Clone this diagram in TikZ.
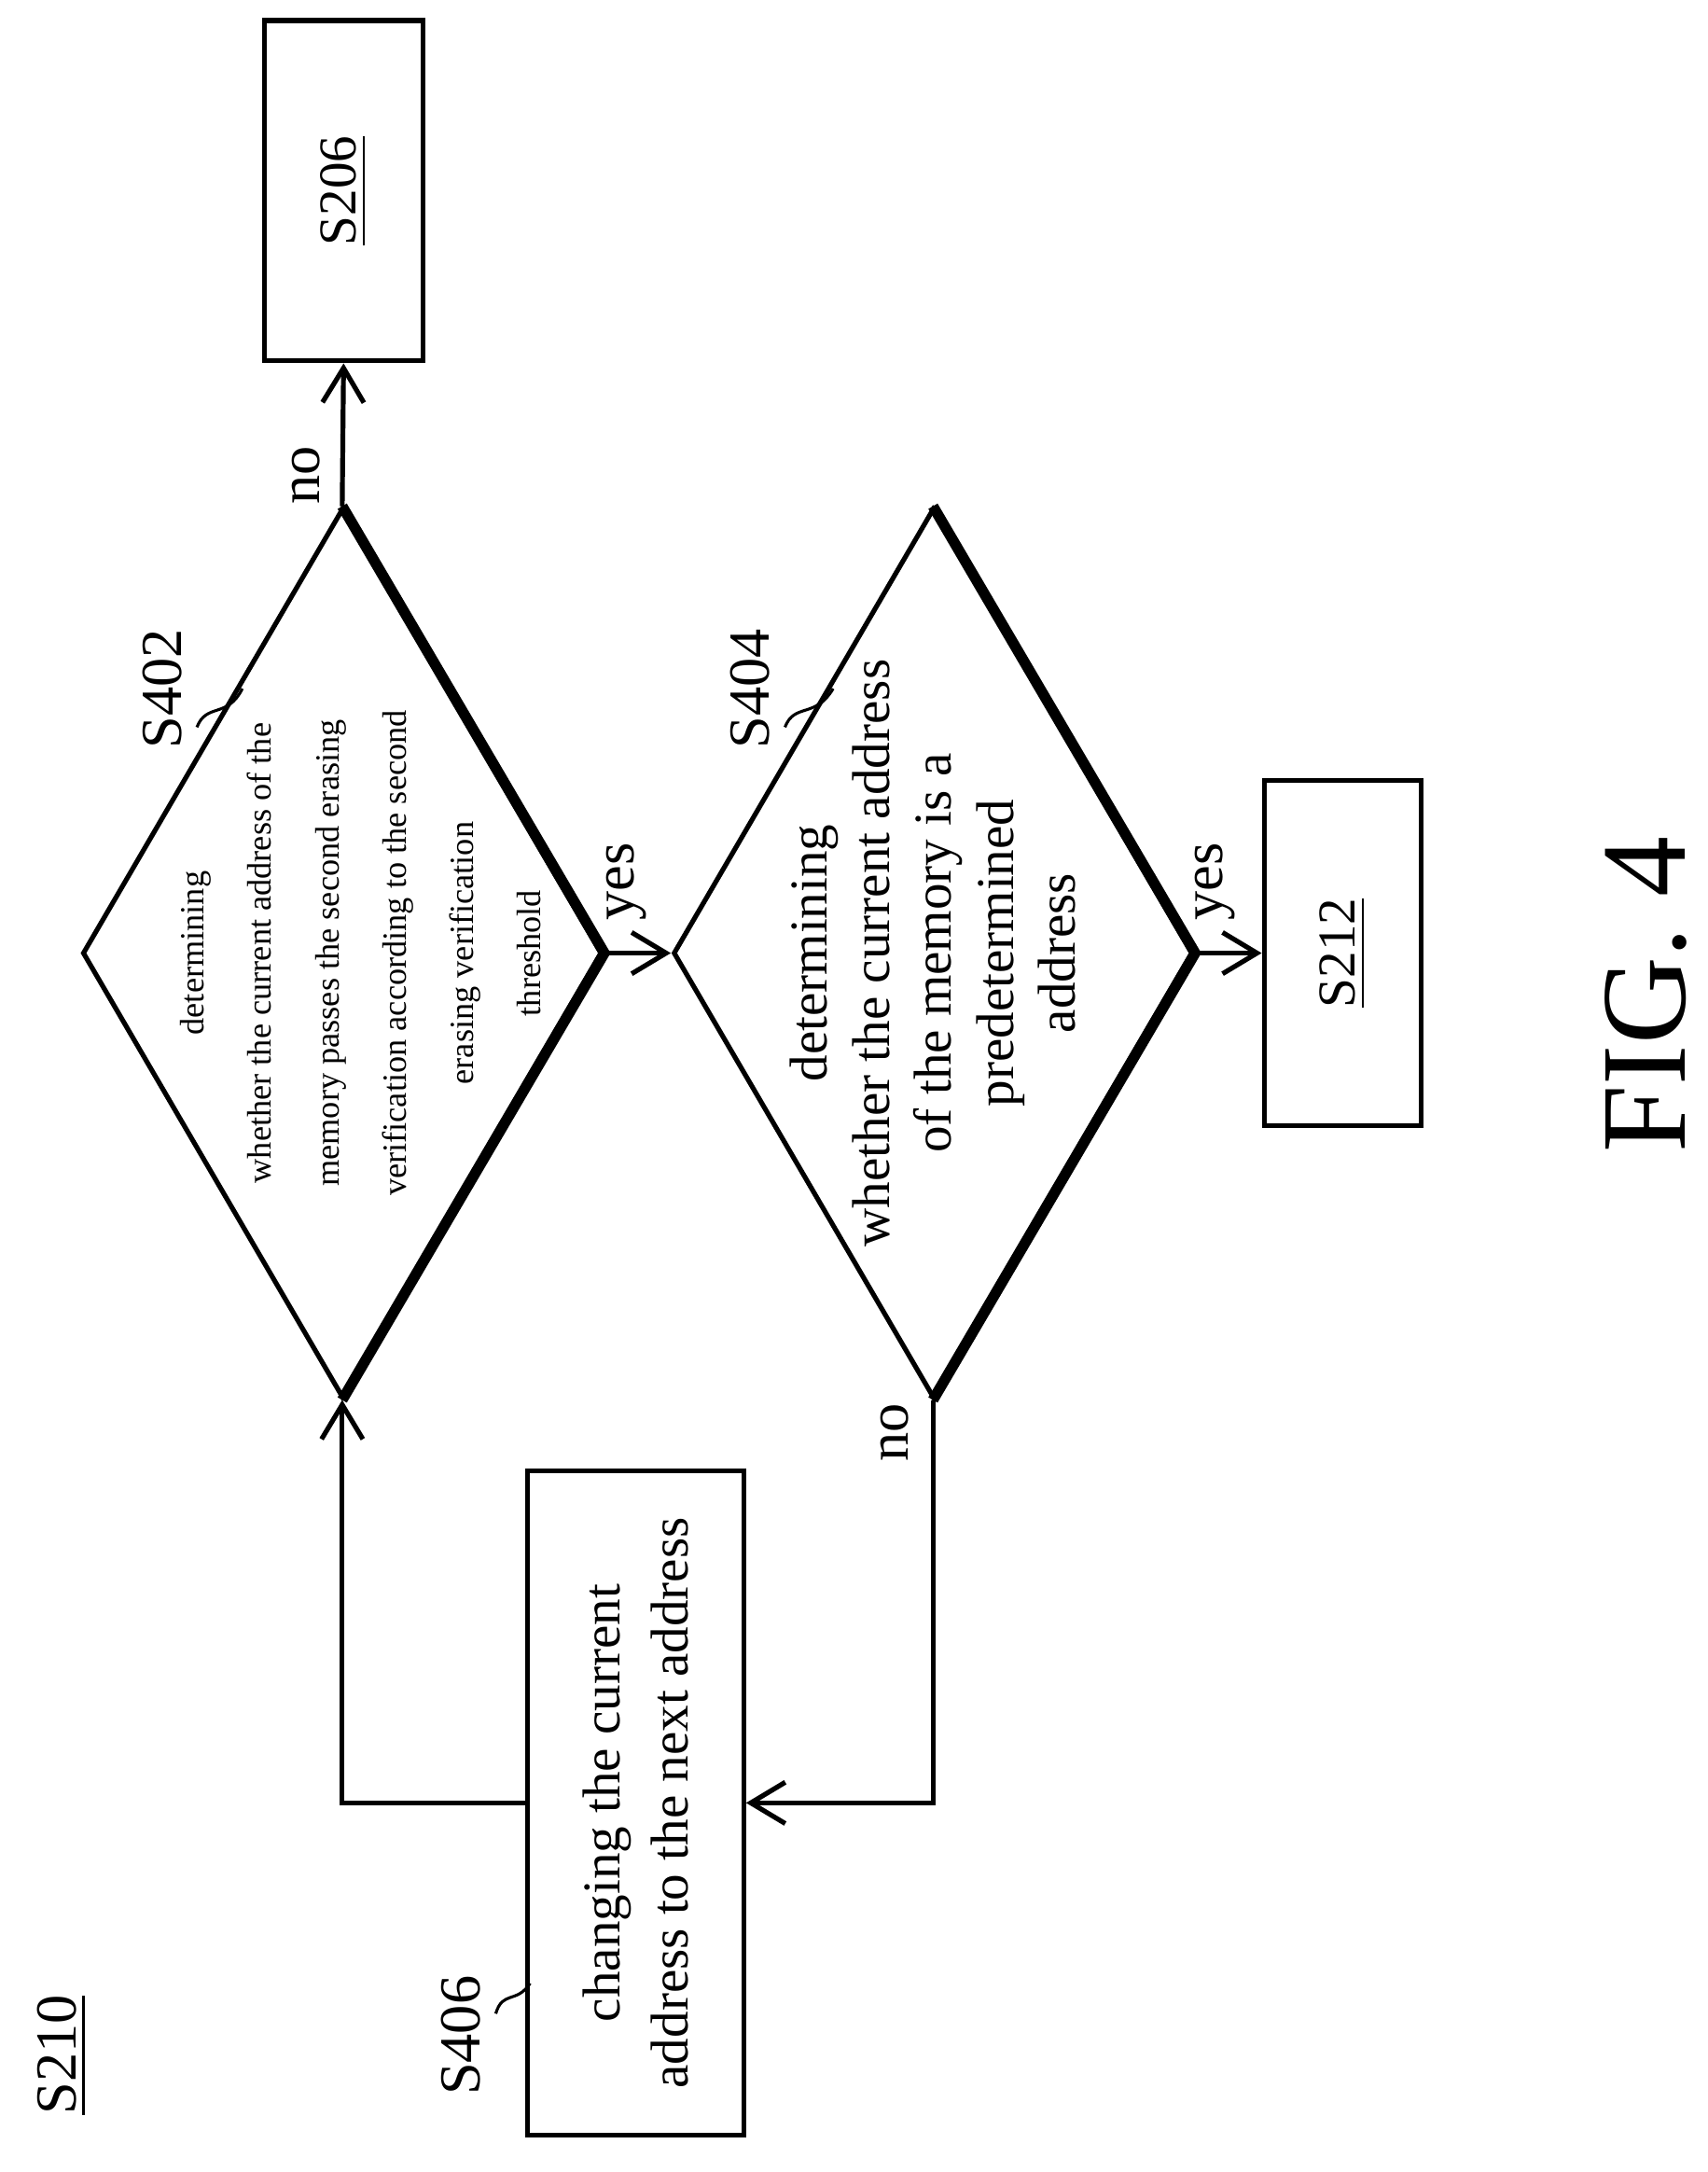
\documentclass[tikz,border=0pt]{standalone}
\usepackage{fontspec}
\setmainfont{Liberation Serif}
\usetikzlibrary{arrows.meta,shapes.geometric}

\begin{document}
\begin{tikzpicture}
  [x=0.01cm,y=-0.01cm,line width=1pt,
   every node/.style={rotate=90},
   box/.style={draw,rectangle,inner sep=0pt,font=\fontsize{11}{14}\selectfont,align=center},
   decide/.style={draw,diamond,inner sep=0pt,minimum width=6.45cm,minimum height=3.77cm},
   lbl/.style={font=\fontsize{12}{14}\selectfont},
   arr/.style={-{Straight Barb[length=2.5mm,width=3mm]}}]
  \useasboundingbox (0,0) rectangle (1240,1577);

  \node[box,minimum width=2.47cm,minimum height=1.15cm] (s206) at (249.5,138.5) {\underline{S206}};
  \node[box,minimum width=2.5cm,minimum height=1.14cm] (s212) at (975,692) {\underline{S212}};
  \node[box,minimum width=4.82cm,minimum height=1.57cm] (s406) at (461.5,1309)
    {changing the current\\address to the next address};
  \node[decide] (d1) at (248.5,692) {};
  \node[decide] (d2) at (677.5,692) {};
  \node[align=center,font=\fontsize{7}{13.9}\selectfont] (t1) at (262,692)
    {determining\\whether the current address of the\\memory passes the second erasing\\verification according to the second\\erasing verification\\threshold};
  \node[align=center,font=\fontsize{11}{12.8}\selectfont] (t2) at (d2)
    {determining\\whether the current address\\of the memory is a\\predetermined\\address};

  % heavier right edges
  \draw[line width=2.2pt] (d1.east) -- (d1.south) -- (d1.west);
  \draw[line width=2.2pt] (d2.east) -- (d2.south) -- (d2.west);

  \draw[arr] (d1.east) -- (s206.west);
  \draw[arr] (d1.south) -- (d2.north);
  \draw[arr] (d2.south) -- (s212.north);
  \draw[arr] (d2.west) |- (s406.south);
  \draw[arr] (s406.north) -| (d1.west);

  \node[lbl] (no1) at (222,345) {no};
  \node[lbl] (yes1) at (455,640) {yes};
  \node[lbl] (yes2) at (882,640) {yes};
  \node[lbl] (no2) at (650,1040) {no};

  \node[lbl] (l402) at (118,500) {S402};
  \node[lbl] (l404) at (545,500) {S404};
  \node[lbl] (l406) at (335,1478) {S406};
  \node[lbl] (l210) at (45,1492) {\underline{S210}};
  \draw[line width=0.6pt] (143,528) .. controls (150,510) and (165,522) .. (176,500);
  \draw[line width=0.6pt] (570,528) .. controls (577,510) and (592,522) .. (605,500);
  \draw[line width=0.6pt] (360,1462) .. controls (365,1445) and (375,1455) .. (385,1440);

  \node[font=\fontsize{25}{28}\selectfont] (fig) at (1195,722) {FIG. 4};
\end{tikzpicture}
\end{document}
